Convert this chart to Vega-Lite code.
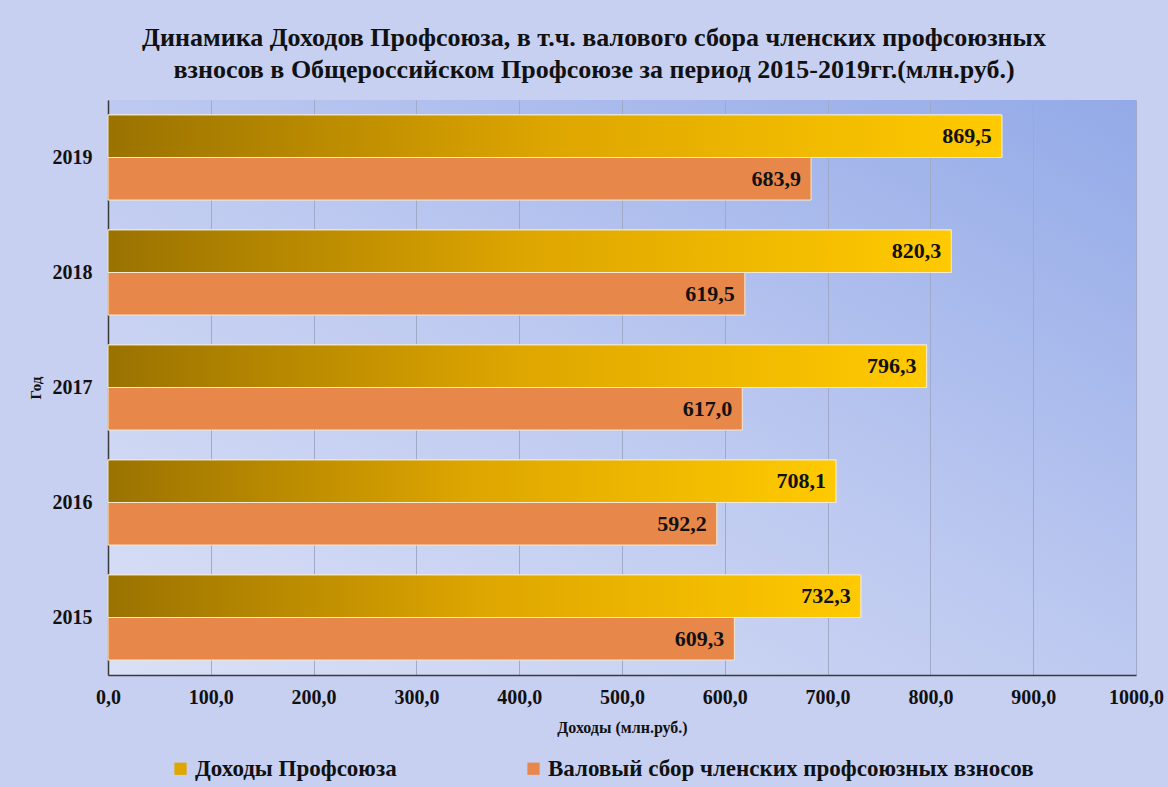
{
  "$schema": "https://vega.github.io/schema/vega-lite/v6.json",
  "width": 1028,
  "height": 575,
  "autosize": {"type": "none"},
  "padding": {"left": 108, "top": 100, "right": 32, "bottom": 112},
  "background": "#c7d0f1",
  "title": {
    "text": ["Динамика Доходов Профсоюза, в т.ч. валового сбора членских профсоюзных", "взносов в Общероссийском Профсоюзе за период 2015-2019гг.(млн.руб.)"],
    "anchor": "middle",
    "frame": "group",
    "dx": -28,
    "offset": 17,
    "font": "Liberation Serif",
    "fontSize": 26,
    "fontWeight": "bold",
    "lineHeight": 32,
    "color": "#111111"
  },
  "data": {
    "values": [
      {"year": "2019", "series": "Доходы Профсоюза", "value": 869.5},
      {"year": "2019", "series": "Валовый сбор членских профсоюзных взносов", "value": 683.9},
      {"year": "2018", "series": "Доходы Профсоюза", "value": 820.3},
      {"year": "2018", "series": "Валовый сбор членских профсоюзных взносов", "value": 619.5},
      {"year": "2017", "series": "Доходы Профсоюза", "value": 796.3},
      {"year": "2017", "series": "Валовый сбор членских профсоюзных взносов", "value": 617.0},
      {"year": "2016", "series": "Доходы Профсоюза", "value": 708.1},
      {"year": "2016", "series": "Валовый сбор членских профсоюзных взносов", "value": 592.2},
      {"year": "2015", "series": "Доходы Профсоюза", "value": 732.3},
      {"year": "2015", "series": "Валовый сбор членских профсоюзных взносов", "value": 609.3}
    ]
  },
  "encoding": {
    "y": {
      "field": "year",
      "type": "nominal",
      "sort": "descending",
      "scale": {"paddingInner": 0.26, "paddingOuter": 0.13},
      "title": "Год",
      "axis": {
        "labelFont": "Liberation Serif",
        "labelFontSize": 20,
        "labelFontWeight": "bold",
        "labelColor": "#111111",
        "labelPadding": 16,
        "ticks": false,
        "domainColor": "#3a3a3a",
        "domainWidth": 1.5,
        "titleFont": "Liberation Serif",
        "titleFontSize": 15,
        "titleFontWeight": "bold",
        "titleColor": "#111111",
        "titlePadding": 9,
        "grid": false
      }
    },
    "yOffset": {
      "field": "series",
      "type": "nominal",
      "sort": ["Доходы Профсоюза", "Валовый сбор членских профсоюзных взносов"]
    },
    "x": {
      "field": "value",
      "type": "quantitative",
      "scale": {"domain": [0, 1000], "nice": false},
      "title": "Доходы (млн.руб.)",
      "axis": {
        "values": [0, 100, 200, 300, 400, 500, 600, 700, 800, 900, 1000],
        "format": ".1f",
        "labelFont": "Liberation Serif",
        "labelFontSize": 20,
        "labelFontWeight": "bold",
        "labelColor": "#111111",
        "labelPadding": 12,
        "labelFlush": false,
        "ticks": false,
        "domainColor": "#3a3a3a",
        "domainWidth": 1.5,
        "grid": true,
        "gridColor": "#a0a9c6",
        "gridWidth": 1,
        "titleFont": "Liberation Serif",
        "titleFontSize": 16,
        "titleFontWeight": "bold",
        "titleColor": "#111111",
        "titlePadding": 12
      }
    }
  },
  "layer": [
    {
      "mark": {"type": "bar", "stroke": "#f4ead0", "strokeWidth": 1},
      "encoding": {
        "color": {
          "field": "series",
          "type": "nominal",
          "scale": {
            "domain": ["Доходы Профсоюза", "Валовый сбор членских профсоюзных взносов"],
            "range": ["#e0a600", "#e8874a"]
          },
          "legend": {
            "title": null,
            "orient": "none",
            "legendX": 61,
            "legendY": 657,
            "direction": "horizontal",
            "symbolType": "square",
            "symbolSize": 150,
            "symbolStrokeWidth": 0,
            "labelFont": "Liberation Serif",
            "labelFontSize": 23,
            "labelFontWeight": "bold",
            "labelColor": "#111111",
            "labelLimit": 800,
            "labelOffset": 3,
            "columnPadding": 125
          }
        }
      }
    },
    {
      "transform": [{"filter": "datum.series === 'Доходы Профсоюза'"}],
      "mark": {
        "type": "bar",
        "stroke": "#f4ead0",
        "strokeWidth": 1,
        "color": {
          "gradient": "linear",
          "x1": 0, "y1": 0, "x2": 1, "y2": 0,
          "stops": [
            {"offset": 0, "color": "#9a7200"},
            {"offset": 0.5, "color": "#dea600"},
            {"offset": 1, "color": "#ffca00"}
          ]
        }
      }
    },
    {
      "mark": {
        "type": "text",
        "align": "right",
        "baseline": "middle",
        "dx": -10,
        "font": "Liberation Serif",
        "fontSize": 22,
        "fontWeight": "bold",
        "color": "#111111"
      },
      "encoding": {
        "text": {"field": "value", "type": "quantitative", "format": ".1f"}
      }
    }
  ],
  "config": {
    "locale": {
      "number": {"decimal": ",", "thousands": " ", "grouping": [3], "currency": ["", ""]}
    },
    "view": {
      "stroke": null,
      "fill": {
        "gradient": "linear",
        "x1": 0, "y1": 1, "x2": 1, "y2": 0,
        "stops": [
          {"offset": 0, "color": "#dae0f5"},
          {"offset": 0.5, "color": "#bdc9f0"},
          {"offset": 1, "color": "#93aae8"}
        ]
      }
    }
  }
}
